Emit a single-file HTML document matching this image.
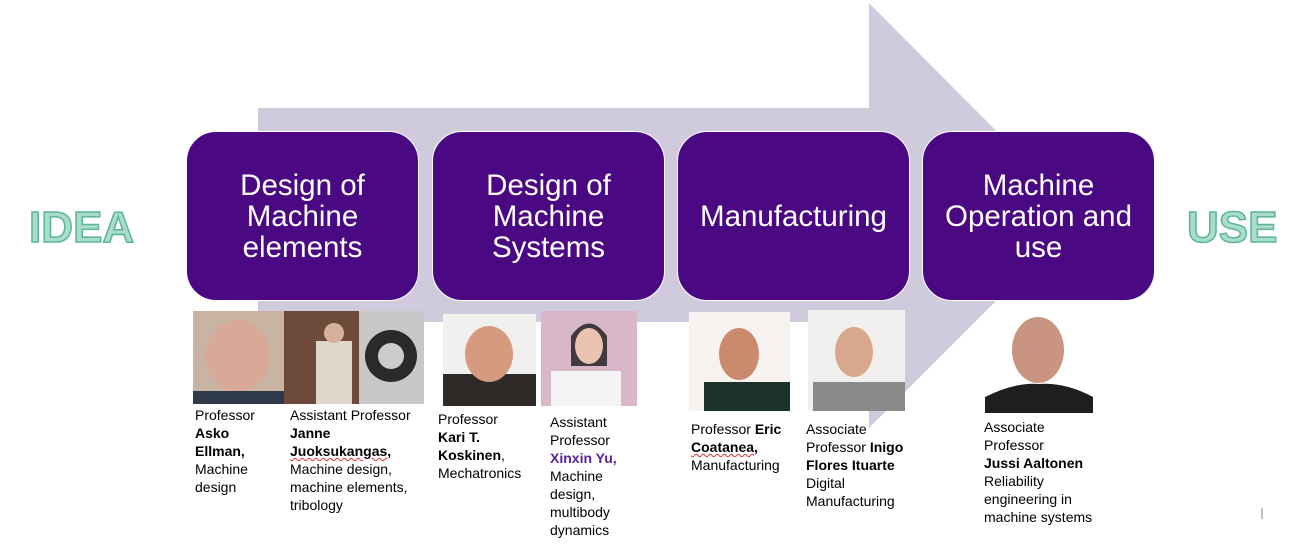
<!DOCTYPE html>
<html><head><meta charset="utf-8"><style>
body{margin:0;width:1300px;height:556px;background:#fff;position:relative;overflow:hidden;font-family:"Liberation Sans",sans-serif}
.box{position:absolute;top:131px;width:231px;height:168px;background:#4a0883;border:1.5px solid #fff;border-radius:30px;color:#fff;font-size:29.5px;line-height:31px;display:flex;align-items:center;justify-content:center;text-align:center}
.big{position:absolute;font-size:44px;font-weight:bold;color:#a9ddc9;-webkit-text-stroke:1.5px #5cb597;letter-spacing:0px}
.ph{position:absolute;overflow:hidden}
.t{position:absolute;font-size:14px;line-height:18px;color:#000}
.sq{text-decoration:underline wavy #d33;text-decoration-thickness:1px}
</style></head><body>
<svg width="1300" height="556" style="position:absolute;left:0;top:0">
<polygon points="258,108 869,108 869,3 1081,216 869,428 869,322 258,322" fill="#cfcbdd"/>
<line x1="1262" y1="508" x2="1262" y2="519" stroke="#888" stroke-width="1"/>
</svg>
<div class="big" style="left:29px;top:203px">IDEA</div>
<div class="big" style="left:1187px;top:203px">USE</div>
<div class="box" style="left:186px">Design of<br>Machine<br>elements</div>
<div class="box" style="left:432px">Design of<br>Machine<br>Systems</div>
<div class="box" style="left:677px">Manufacturing</div>
<div class="box" style="left:922px">Machine<br>Operation and<br>use</div>

<svg class="ph" style="left:193px;top:311px" width="91" height="93"><rect width="91" height="93" fill="#c9b3a3"/><ellipse cx="45" cy="45" rx="32" ry="36" fill="#d8a898"/><rect x="0" y="80" width="91" height="13" fill="#2e3a4a"/></svg>
<svg class="ph" style="left:284px;top:311px" width="140" height="93"><rect width="75" height="93" fill="#6d4a3a"/><rect x="75" width="65" height="93" fill="#c8c8c8"/><circle cx="107" cy="45" r="26" fill="#2a2a2a"/><circle cx="107" cy="45" r="13" fill="#ccc"/><rect x="32" y="30" width="36" height="63" fill="#e0d6cc"/><circle cx="50" cy="22" r="10" fill="#d6b09a"/></svg>
<svg class="ph" style="left:443px;top:314px" width="93" height="92"><rect width="93" height="92" fill="#f2f0ee"/><rect x="0" y="60" width="93" height="32" fill="#2d2a28"/><ellipse cx="46" cy="40" rx="24" ry="28" fill="#d59a80"/></svg>
<svg class="ph" style="left:541px;top:311px" width="96" height="95"><rect width="96" height="95" fill="#d8b8c8"/><rect x="10" y="60" width="70" height="35" fill="#f4f4f4"/><path d="M30 25 Q48 0 66 25 L66 55 L30 55Z" fill="#1a1a1a" opacity=".8"/><ellipse cx="48" cy="35" rx="14" ry="18" fill="#eac4b0"/></svg>
<svg class="ph" style="left:689px;top:312px" width="101" height="99"><rect width="101" height="99" fill="#f6f2f0"/><rect x="15" y="70" width="86" height="29" fill="#1c332c"/><ellipse cx="50" cy="42" rx="20" ry="26" fill="#c98a6e"/></svg>
<svg class="ph" style="left:808px;top:310px" width="97" height="101"><rect width="97" height="101" fill="#f2f0ee"/><rect x="5" y="72" width="92" height="29" fill="#8a8a88"/><ellipse cx="46" cy="42" rx="19" ry="25" fill="#d8a88e"/></svg>
<svg class="ph" style="left:985px;top:312px" width="108" height="101"><rect width="108" height="101" fill="#fff"/><path d="M0 101 L0 85 Q30 70 54 72 Q80 70 108 85 L108 101Z" fill="#1e1e1e"/><ellipse cx="53" cy="38" rx="26" ry="33" fill="#c99480"/></svg>

<div class="t" style="left:195px;top:406px">Professor<br><b>Asko<br>Ellman,</b><br>Machine<br>design</div>
<div class="t" style="left:290px;top:406px">Assistant Professor<br><b>Janne<br><span class="sq">Juoksukangas</span>,</b><br>Machine design,<br>machine elements,<br>tribology</div>
<div class="t" style="left:438px;top:410px">Professor<br><b>Kari T.<br>Koskinen</b>,<br>Mechatronics</div>
<div class="t" style="left:550px;top:413px">Assistant<br>Professor<br><b style="color:#5b1fa0">Xinxin Yu,</b><br>Machine<br>design,<br>multibody<br>dynamics</div>
<div class="t" style="left:691px;top:420px">Professor <b>Eric<br><span class="sq">Coatanea</span>,</b><br>Manufacturing</div>
<div class="t" style="left:806px;top:420px">Associate<br>Professor <b>Inigo<br>Flores Ituarte</b><br>Digital<br>Manufacturing</div>
<div class="t" style="left:984px;top:418px">Associate<br>Professor<br><b>Jussi Aaltonen</b><br>Reliability<br>engineering in<br>machine systems</div>
</body></html>
